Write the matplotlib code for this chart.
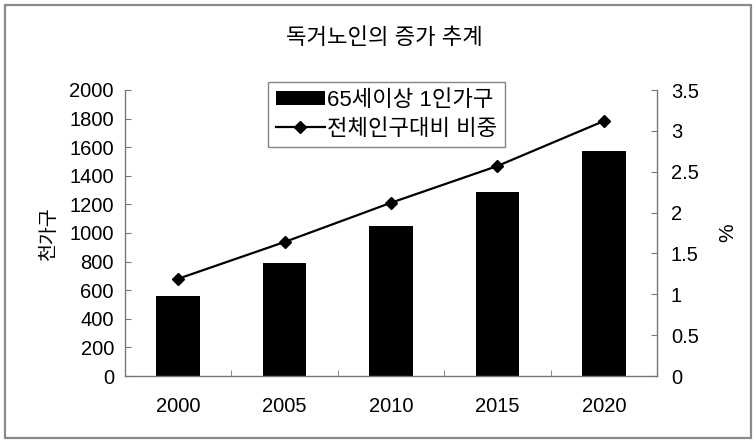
import matplotlib
matplotlib.use("Agg")
import matplotlib.pyplot as plt
from matplotlib.patches import Rectangle
import numpy as np

plt.rcParams['font.family'] = ['Liberation Sans', 'Noto Sans CJK KR', 'DejaVu Sans']

years = ["2000", "2005", "2010", "2015", "2020"]
households = [560, 790, 1050, 1290, 1570]      # 천가구
share_pct = [1.19, 1.64, 2.12, 2.57, 3.12]      # 전체인구대비 비중 (%)

title = "독거노인의 증가 추계"
bar_label = "65세이상 1인가구"
line_label = "전체인구대비 비중"

W, H = 756, 441
fig = plt.figure(figsize=(W / 100, H / 100), dpi=100)
fig.patch.set_facecolor("white")

# outer chart frame
fig.patches.append(Rectangle((5 / W, 3 / H), 746 / W, 433 / H, transform=fig.transFigure,
                             fill=False, edgecolor="#8a8a8a", lw=1.6))

ax = fig.add_axes([125 / W, 1 - 376 / H, 532 / W, 286 / H])
ax2 = ax.twinx()

x = np.arange(len(years))
ax.bar(x, households, width=0.41, color="black", label=bar_label)
ax2.plot(x, share_pct, color="black", lw=1.6, marker="D", markersize=6.5, label=line_label)

ax.set_xlim(-0.5, len(years) - 0.5)
ax.set_ylim(0, 2000)
ax.set_yticks(np.arange(0, 2001, 200))
ax2.set_ylim(0, 3.5)
ax2.set_yticks(np.arange(0, 3.51, 0.5))
ax2.set_yticklabels(["0", "0.5", "1", "1.5", "2", "2.5", "3", "3.5"])

ax.set_xticks(x)
ax.set_xticklabels(years)
ax.set_xticks(np.arange(0.5, len(years) - 0.5, 1), minor=True)
ax.tick_params(axis="x", which="major", length=0, pad=15, labelsize=14.5)
ax.tick_params(axis="x", which="minor", length=4, direction="in", color="#777")
ax.tick_params(axis="y", length=4, direction="in", color="#777", labelsize=14.5, pad=8)
ax2.tick_params(axis="y", length=4, direction="in", color="#777", labelsize=14.5, pad=10)

for a in (ax, ax2):
    a.spines["top"].set_visible(False)
    for s in ("left", "right", "bottom"):
        a.spines[s].set_color("#777")
        a.spines[s].set_linewidth(1.0)
ax2.spines["left"].set_visible(False)
ax2.spines["bottom"].set_visible(False)
ax.spines["right"].set_visible(False)

ax.set_ylabel("천가구", fontsize=14, labelpad=8)
ax2.set_ylabel("%", fontsize=15, labelpad=14)

fig.text(384 / W, 1 - 38 / H, title, ha="center", va="center", fontsize=16)

h1, l1 = ax.get_legend_handles_labels()
h2, l2 = ax2.get_legend_handles_labels()
leg = ax2.legend(h1 + h2, l1 + l2, loc="upper left", bbox_to_anchor=(268 / W, 1 - 82 / H),
                 bbox_transform=fig.transFigure, fontsize=16, frameon=True, fancybox=False,
                 handlelength=2.2, handleheight=0.6, handletextpad=0.1, borderpad=0.35,
                 labelspacing=0.35, borderaxespad=0)
leg.get_frame().set_edgecolor("#666")
leg.get_frame().set_linewidth(1.0)

fig.savefig("out.png", dpi=100, facecolor="white")
